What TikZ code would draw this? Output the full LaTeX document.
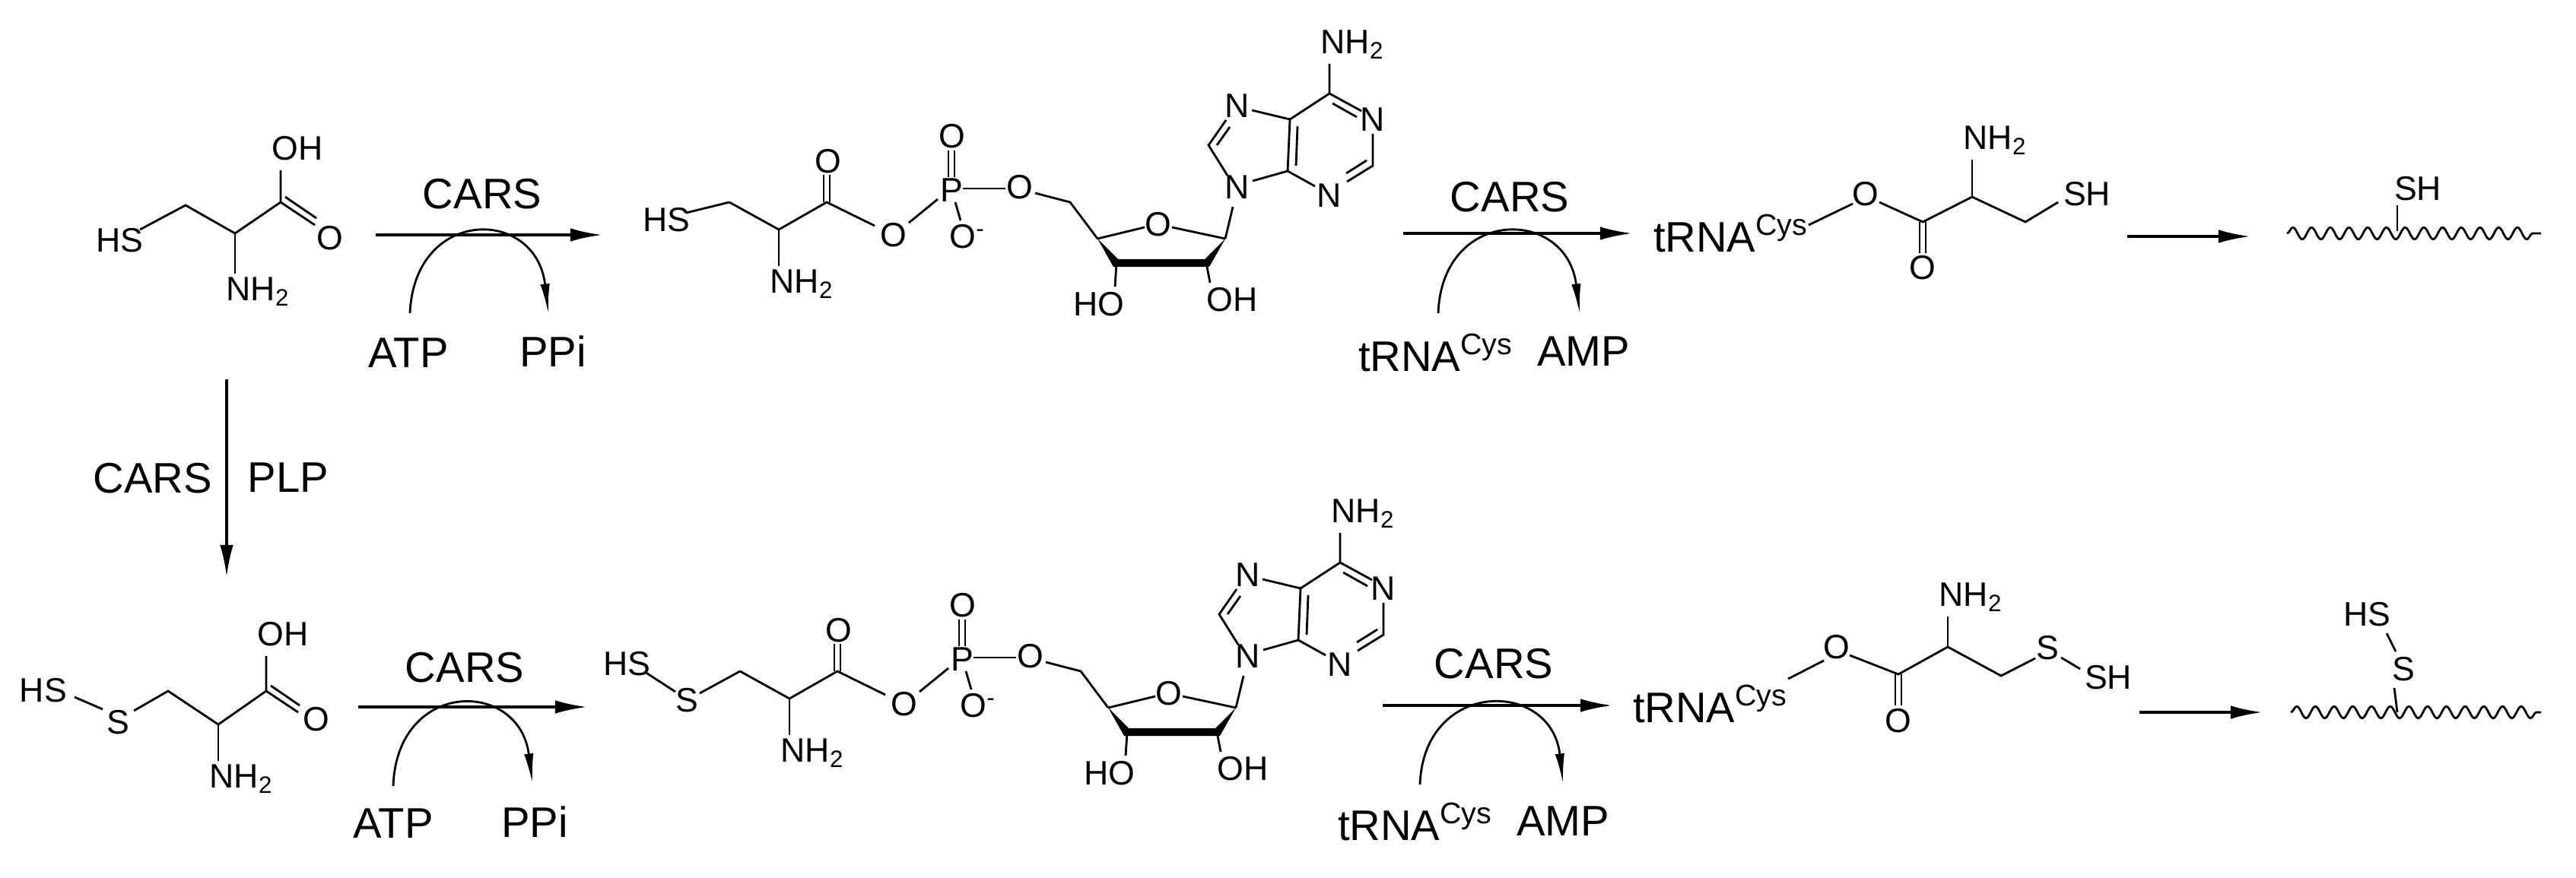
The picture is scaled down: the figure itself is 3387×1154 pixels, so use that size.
\documentclass[tikz,border=0pt]{standalone}
\usepackage{fontspec}
\setmainfont{Liberation Sans}
\usetikzlibrary{arrows.meta,decorations.pathmorphing}
\newcommand\NHtwo{NH\textsubscript{2}}
\newcommand\trna{tRNA\textsuperscript{Cys}}
\tikzset{
  atom/.style={inner sep=0pt,font=\fontsize{12.7}{14}\selectfont},
  lab/.style={inner sep=0pt,font=\fontsize{16}{18}\selectfont},
  bond/.style={line width=0.8pt},
  rxn/.style={line width=1.1pt,-{Latex[length=12pt,width=5pt]}},
  side/.style={line width=0.8pt,-{Latex[length=11pt,width=3.5pt]}},
  wavy/.style={line width=0.8pt,decorate,decoration={snake,segment length=7pt,amplitude=2.2pt}}
}
\newcommand\adenylate{%
  % cysteinyl part from CH2
  \draw[bond] (959,266) -- (1024,302) -- (1087,266) -- (1150,297);
  \draw[bond] (1024,302) -- (1024,350);
  \node[atom,anchor=north west] (nh) at (1012,354) {\NHtwo};
  \draw[bond] (1083,266) -- (1083,230); \draw[bond] (1091,266) -- (1091,230);
  \node[atom] (oc) at (1089,212) {O};
  \node[atom] (oe) at (1175,309) {O};
  \draw[bond] (1195,293) -- (1233,262);
  \node[atom] (p) at (1251,250) {P};
  \draw[bond] (1247,233) -- (1247,198); \draw[bond] (1255,233) -- (1255,198);
  \node[atom] (op) at (1252,179) {O};
  \draw[bond] (1256,266) -- (1263,290);
  \node[atom] (om) at (1272,311) {O\textsuperscript{-}};
  \draw[bond] (1266,248) -- (1322,248);
  \node[atom] (o5) at (1341,246) {O};
  \draw[bond] (1361,254) -- (1407,266) -- (1443,314);
  % ribose
  \draw[bond] (1443,314) -- (1505,299);
  \node[atom] (or) at (1523,295) {O};
  \draw[bond] (1541,299) -- (1611,314);
  \fill (1443,314) -- (1464,351) -- (1590,351) -- (1611,314) -- (1584,341) -- (1470,341) -- cycle;
  \draw[bond] (1468,346) -- (1466,377);
  \node[atom] (ho) at (1445,400) {HO};
  \draw[bond] (1586,346) -- (1591,372);
  \node[atom] (oh) at (1620,394) {OH};
  \draw[bond] (1611,314) -- (1621,272);
  % adenine
  \node[atom] (n9) at (1627,246) {N};
  \draw[bond] (1614,231) -- (1589,191) -- (1612,158);
  \draw[bond] (1600,191) -- (1617,167);
  \node[atom] (n7) at (1627,139) {N};
  \draw[bond] (1646,145) -- (1696,157) -- (1693,225) -- (1647,238);
  \draw[bond] (1706,166) -- (1704,218);
  \draw[bond] (1696,157) -- (1748,123) -- (1748,84);
  \node[atom,anchor=south west] (nh2a) at (1736,78) {\NHtwo};
  \draw[bond] (1748,123) -- (1790,146);
  \draw[bond] (1752,136) -- (1784,154);
  \node[atom] (n1) at (1805,157) {N};
  \draw[bond] (1805,176) -- (1805,218) -- (1771,239);
  \draw[bond] (1797,211) -- (1770,228);
  \node[atom] (n3) at (1748,257) {N};
  \draw[bond] (1729,245) -- (1693,225);
}
\begin{document}
\begin{tikzpicture}[x=0.1mm,y=-0.1mm]
\useasboundingbox (0,0) rectangle (3387,1154);
% ===== Row 1 =====
% cysteine
\node[atom] (hs1) at (157,316) {HS};
\draw[bond] (184,302) -- (244,270) -- (309,307) -- (369,266) -- (369,224);
\draw[bond] (309,307) -- (309,360);
\node[atom,anchor=north west] (nh1) at (297,364) {\NHtwo};
\node[atom,anchor=south west] (oh1) at (357,212) {OH};
\draw[bond] (369,266) -- (414,296); \draw[bond] (375,259) -- (416,287);
\node[atom] (o1) at (434,313) {O};
% arrow 1
\coordinate (a1s) at (494,309); \coordinate (a1e) at (792,309);
\draw[rxn] (a1s) -- (a1e);
\node[lab] (c1) at (634,255) {CARS};
\node[lab] (atp1) at (537,464) {ATP};
\node[lab] (ppi1) at (727,462) {PPi};
\draw[side] (539,412) .. controls (545,272) and (705,272) .. (721,412);
% adenylate 1
\node[atom] (hs2) at (876,289) {HS};
\draw[bond] (902,280) -- (959,266);
\adenylate
% arrow 2
\draw[rxn] (1845,307) -- (2146,307);
\node[lab] (c2) at (1985,259) {CARS};
\node[lab] (t1) at (1888,464) {\trna};
\node[lab] (amp1) at (2082,462) {AMP};
\draw[side] (1891,412) .. controls (1896,272) and (2060,272) .. (2077,412);
% product 1
\node[lab] (tp1) at (2276,307) {\trna};
\draw[bond] (2378,296) -- (2436,268);
\node[atom] (oe1) at (2453,255) {O};
\draw[bond] (2471,266) -- (2528,292) -- (2593,259) -- (2663,292) -- (2706,266);
\draw[bond] (2524,292) -- (2524,333); \draw[bond] (2532,292) -- (2532,333);
\node[atom] (oc1) at (2528,352) {O};
\draw[bond] (2593,259) -- (2593,210);
\node[atom,anchor=south west] (nh3) at (2581,204) {\NHtwo};
\node[atom] (sh1) at (2744,255) {SH};
\draw[rxn] (2797,311) -- (2959,311);
\draw[wavy] (3007,307) -- (3341,307);
\draw[bond] (3152,304) -- (3152,270);
\node[atom] (sh1b) at (3179,248) {SH};
% vertical arrow
\draw[rxn] (298,499) -- (298,759);
\node[lab] (c3) at (201,629) {CARS};
\node[lab] (plp) at (379,628) {PLP};
% ===== Row 2 =====
\node[atom] (hs3) at (57,908) {HS};
\draw[bond] (98,917) -- (135,933);
\node[atom] (s3) at (155,950) {S};
\draw[bond] (176,935) -- (221,909) -- (287,953) -- (350,909) -- (350,863);
\draw[bond] (287,953) -- (287,1001);
\node[atom,anchor=north west] (nh4) at (275,1005) {\NHtwo};
\node[atom,anchor=south west] (oh4) at (338,851) {OH};
\draw[bond] (350,909) -- (392,937); \draw[bond] (356,902) -- (394,928);
\node[atom] (o4) at (416,946) {O};
\draw[rxn] (471,930) -- (772,930);
\node[lab] (c4) at (611,878) {CARS};
\node[lab] (atp2) at (517,1083) {ATP};
\node[lab] (ppi2) at (703,1081) {PPi};
\draw[side] (517,1034) .. controls (522,893) and (683,893) .. (700,1030);
% adenylate 2
\node[atom] (hs5) at (824,873) {HS};
\draw[bond] (848,884) -- (888,910);
\node[atom] (s5) at (903,921) {S};
\draw[bond] (920,912) -- (973,883);
\begin{scope}[shift={(14,617)}]
\adenylate
\end{scope}
% arrow 2 row 2
\draw[rxn] (1818,928) -- (2120,928);
\node[lab] (c5) at (1964,873) {CARS};
\node[lab] (t2) at (1861,1081) {\trna};
\node[lab] (amp2) at (2055,1080) {AMP};
\draw[side] (1867,1032) .. controls (1872,893) and (2040,893) .. (2055,1030);
% product 2
\node[lab] (tp2) at (2249,926) {\trna};
\draw[bond] (2351,893) -- (2398,869);
\node[atom] (oe2) at (2415,851) {O};
\draw[bond] (2432,862) -- (2496,887) -- (2561,851) -- (2631,889) -- (2676,866);
\draw[bond] (2492,887) -- (2492,928); \draw[bond] (2500,887) -- (2500,928);
\node[atom] (oc2) at (2496,948) {O};
\draw[bond] (2561,851) -- (2561,811);
\node[atom,anchor=south west] (nh5) at (2549,805) {\NHtwo};
\node[atom] (s6) at (2692,852) {S};
\draw[bond] (2710,865) -- (2735,880);
\node[atom] (sh6) at (2772,891) {SH};
\draw[rxn] (2813,937) -- (2975,937);
\draw[wavy] (3012,937) -- (3341,937);
\draw[bond] (3152,937) -- (3148,905);
\node[atom] (s7) at (3160,880) {S};
\draw[bond] (3150,857) -- (3138,833);
\node[atom] (hs7) at (3112,808) {HS};
\end{tikzpicture}
\end{document}
